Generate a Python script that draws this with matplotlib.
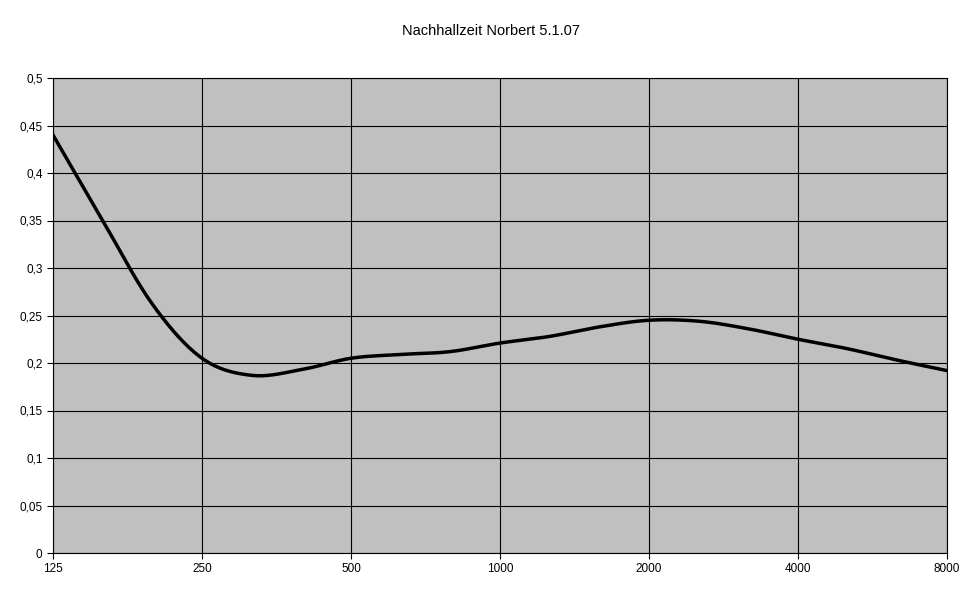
import numpy as np
import matplotlib
matplotlib.use("Agg")
import matplotlib.pyplot as plt

freqs = [125,160,200,250,315,400,500,630,800,1000,1250,1600,2000,2500,3150,4000,5000,6300,8000]
rt = [0.44,0.35,0.262,0.205,0.187,0.193,0.205,0.209,0.212,0.221,0.228,0.238,0.245,0.244,0.236,0.225,0.215,0.203,0.192]
xticklabels = ["125","250","500","1000","2000","4000","8000"]
yticks = [0,0.05,0.1,0.15,0.2,0.25,0.3,0.35,0.4,0.45,0.5]

x = np.arange(len(freqs), dtype=float)
y = np.array(rt)
# Catmull-Rom smoothing (Excel-like smoothed line)
xs, ys = [], []
P = np.column_stack([x, y])
P = np.vstack([P[0], P, P[-1]])
for i in range(1, len(P) - 2):
    p0, p1, p2, p3 = P[i-1], P[i], P[i+1], P[i+2]
    t = np.linspace(0, 1, 20)[:, None]
    c = 0.5 * ((2*p1) + (-p0+p2)*t + (2*p0-5*p1+4*p2-p3)*t**2 + (-p0+3*p1-3*p2+p3)*t**3)
    xs.extend(c[:, 0]); ys.extend(c[:, 1])

fig = plt.figure(figsize=(9.78, 6), dpi=100)
fig.patch.set_facecolor("white")
ax = fig.add_axes([53/978, 47/600, 894/978, 475/600])
ax.set_facecolor("#c0c0c0")
ax.plot(xs, ys, color="black", lw=2.5)
ax.set_xlim(0, len(freqs)-1)
ax.set_ylim(0, 0.5)
ax.set_xticks(np.arange(0, len(freqs), 3))
ax.set_xticklabels(xticklabels, fontsize=8.5, family="Liberation Sans")
ax.set_yticks(yticks)
ax.set_yticklabels([("%g" % v).replace(".", ",") for v in yticks], fontsize=8.5, family="Liberation Sans")
ax.grid(True, color="black", lw=0.8)
ax.set_axisbelow(True)
ax.tick_params(length=4, width=0.8)
for s in ax.spines.values():
    s.set_linewidth(0.8)
fig.text(491/978, 1-31/600, "Nachhallzeit Norbert 5.1.07", ha="center", va="center",
         fontsize=10.5, family="Liberation Sans")
fig.savefig("out.png", dpi=100)
